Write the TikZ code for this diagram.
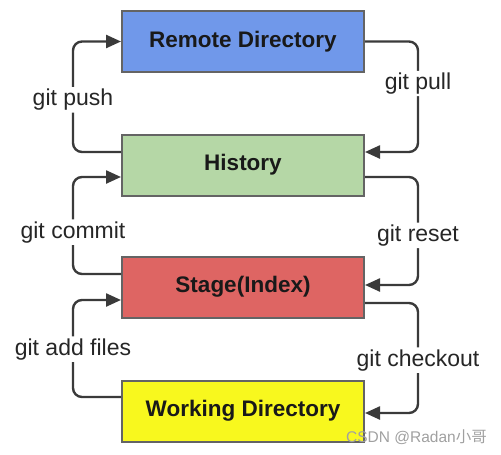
\documentclass[tikz,border=0pt]{standalone}
\usepackage{fontspec}
\setmainfont{Liberation Sans}
\newfontfamily\cjkfont{Noto Sans CJK SC}
\usetikzlibrary{arrows.meta}
\definecolor{remoteblue}{RGB}{112,152,234}
\definecolor{histgreen}{RGB}{181,215,166}
\definecolor{stagered}{RGB}{222,101,99}
\definecolor{workyellow}{RGB}{248,248,30}
\definecolor{linegray}{RGB}{58,58,58}
\definecolor{bordergray}{RGB}{100,100,100}
\definecolor{wmgray}{RGB}{160,160,160}
\tikzset{
  box/.style={draw=bordergray, line width=2pt, minimum width=242pt, minimum height=61pt,
    inner sep=0pt, font=\fontsize{22.5}{26}\selectfont\bfseries, text=black!90},
  conn/.style={draw=linegray, line width=2.4pt, rounded corners=9pt,
    -{Triangle[length=15pt,width=13pt]}},
  lbl/.style={fill=white, inner sep=2pt, font=\fontsize{23}{26}\selectfont, text=black!85}
}
\begin{document}
\begin{tikzpicture}[x=1pt,y=-1pt]
\useasboundingbox (0,0) rectangle (501,455);
\node[box, fill=remoteblue] (remote) at (243,41.5) {Remote Directory};
\node[box, fill=histgreen] (hist) at (243,165) {History};
\node[box, fill=stagered] (stage) at (243,287) {Stage(Index)};
\node[box, fill=workyellow] (work) at (243,411) {Working Directory};

% left side
\draw[conn] ([yshift=13pt]hist.west) -- ++(-48,0) |- (remote.west)
  node[lbl, pos=0.236] (lpush) {git push};
\draw[conn] ([yshift=13pt]stage.west) -- ++(-48,0) |- ([yshift=-12pt]hist.west)
  node[lbl, pos=0.216] (lcommit) {git commit};
\draw[conn] ([yshift=14pt]work.west) -- ++(-48,0) |- ([yshift=-13pt]stage.west)
  node[lbl, pos=0.247] (ladd) {git add files};

% right side
\draw[conn] (remote.east) -- ++(53,0) |- ([yshift=13pt]hist.east)
  node[lbl, pos=0.19] (lpull) {git pull};
\draw[conn] ([yshift=-12pt]hist.east) -- ++(53,0) |- ([yshift=2pt]stage.east)
  node[lbl, pos=0.27] (lreset) {git reset};
\draw[conn] ([yshift=-16pt]stage.east) -- ++(53,0) |- ([yshift=-2pt]work.east)
  node[lbl, pos=0.26] (lcheckout) {git checkout};

\node[font=\fontsize{15.5}{18}\selectfont, text=wmgray, anchor=east, inner sep=0pt] (wm) at (487,437)
  {CSDN @Radan{\cjkfont 小哥}};
\end{tikzpicture}
\end{document}
